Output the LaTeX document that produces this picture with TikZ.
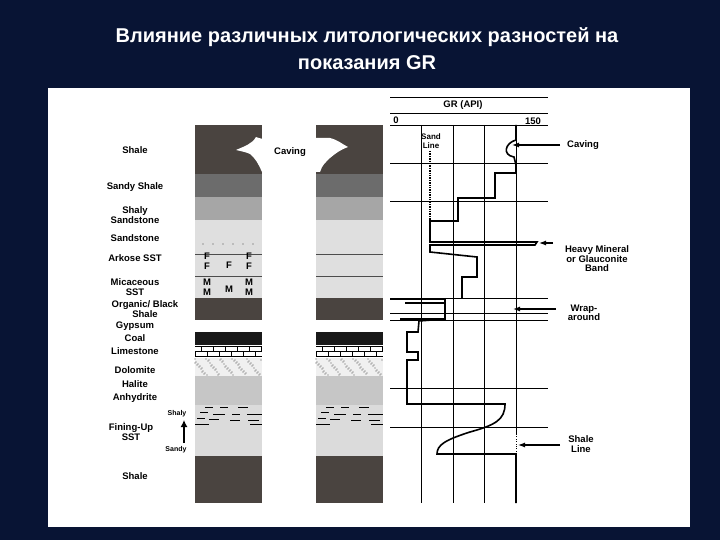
\documentclass[tikz,border=0pt]{standalone}
\usepackage{fontspec}
\setmainfont{Liberation Sans}
\begin{document}
\begin{tikzpicture}[x=1pt,y=-1pt,
  lbl/.style={font=\bfseries\fontsize{9.5}{9.5}\selectfont,align=center,inner sep=0pt},
  grid/.style={line width=0.6pt},
  curve/.style={line width=1.6pt,line join=miter},
  arr/.style={line width=1.2pt,-{Latex[length=7pt,width=5pt]}}]
\usetikzlibrary{arrows.meta}
\fill[fill={rgb,255:red,8;green,20;blue,52}] (0,0) rectangle (720,540);
\useasboundingbox (0,0) rectangle (720,540);
\fill[white] (48,88) rectangle (690,527);
\node[text=white,font=\bfseries\fontsize{20}{27}\selectfont,align=center] (title) at (367,49) {Влияние различных литологических разностей на\\показания GR};
% columns
\foreach \x/\n in {195/L,316/R}{
  \fill[fill={rgb,255:red,74;green,68;blue,64}] (\x,125) rectangle +(67,49);
  \fill[gray!85!black] (\x,174) rectangle +(67,23);
  \fill[gray!70] (\x,197) rectangle +(67,23);
  \fill[gray!25] (\x,220) rectangle +(67,78);
  \draw[gray!60!black,line width=0.4pt] (\x,254)--+(67,0) (\x,276)--+(67,0);
  \fill[fill={rgb,255:red,74;green,68;blue,64}] (\x,298) rectangle +(67,22);
  \fill[black!90] (\x,332) rectangle +(67,13);
  \draw[line width=0.5pt] (\x,346)--+(67,0) (\x,351)--+(67,0) (\x,356)--+(67,0);
  \foreach \i in {0,...,5}{\draw[line width=0.5pt] (\x+6+\i*12,346)--+(0,5) (\x+12*\i,351)--+(0,5);}
  \fill[gray!12] (\x,358) rectangle +(67,18);
  \foreach \i in {0,...,70}{\fill[gray!70!black] ({\x+mod(\i*37,67)},{359+mod(\i*13,17)}) circle (0.55);}
  \fill[gray!45] (\x,376) rectangle +(67,29);
  \fill[gray!28] (\x,405) rectangle +(67,51);
  \fill[fill={rgb,255:red,74;green,68;blue,64}] (\x,456) rectangle +(67,47);
  \foreach \a/\b/\c in {10/407/18,25/407/33,43/407/53,5/412/13,18/414/30,37/414/45,52/414/67,2/418/10,14/419/24,35/420/45,53/420/64,0/424/14,55/424/67}{
    \draw[line width=0.6pt] (\x+\a,\b)--(\x+\c,\b);}
}
\foreach \dx in {8,18,28,38,48,58}{\fill[gray!60!black] (195+\dx,244) circle (0.7);}
\node[lbl] (f1) at (207,261) {F\\F}; \node[lbl] (f2) at (229,265) {F}; \node[lbl] (f3) at (249,261) {F\\F};
\node[lbl] (m1) at (207,287) {M\\M}; \node[lbl] (m2) at (229,289) {M}; \node[lbl] (m3) at (249,287) {M\\M};
% caving cloud
\fill[white] (236,150) .. controls (245,146) and (252,144) .. (256,137) .. controls (264,140) and (270,140) .. (278,138)
  -- (330,138) .. controls (338,140) and (342,144) .. (348,147) .. controls (340,150) and (336,153) .. (330,158)
  .. controls (326,162) and (322,165) .. (320,172) -- (262,172) .. controls (258,163) and (255,158) .. (250,154) .. controls (246,152) and (240,151) .. (236,150) -- cycle;
\node[lbl] (cav) at (290,152) {Caving};
% left labels
\node[lbl] (l1) at (135,150) {Shale};
\node[lbl] (l2) at (135,187) {Sandy Shale};
\node[lbl] (l3) at (135,215) {Shaly\\Sandstone};
\node[lbl] (l4) at (135,238) {Sandstone};
\node[lbl] (l5) at (135,258) {Arkose SST};
\node[lbl] (l6) at (135,287) {Micaceous\\SST};
\node[lbl] (l7) at (145,309) {Organic/ Black\\Shale};
\node[lbl] (l8) at (135,326) {Gypsum};
\node[lbl] (l9) at (135,338) {Coal};
\node[lbl] (l10) at (135,351) {Limestone};
\node[lbl] (l11) at (135,370) {Dolomite};
\node[lbl] (l12) at (135,384) {Halite};
\node[lbl] (l13) at (135,398) {Anhydrite};
\node[lbl,font=\bfseries\fontsize{7}{8}\selectfont] (l14) at (177,414) {Shaly};
\node[lbl] (l15) at (131,432) {Fining-Up\\SST};
\node[lbl,font=\bfseries\fontsize{7}{8}\selectfont] (l16) at (176,450) {Sandy};
\node[lbl] (l17) at (135,476) {Shale};
\coordinate (fa) at (184,443); \coordinate (fb) at (184,420);
\draw[line width=1.3pt,-{Latex[length=7pt,width=7pt]}] (fa)--(fb);
% log track
\draw[grid] (390,97)--(548,97) (390,113)--(548,113);
\node[lbl] (gr) at (463,105) {GR (API)};
\node[lbl] (z) at (396,120) {0};
\node[lbl] (hf) at (533,121) {150};
\draw[grid] (390,125)--(548,125);
\foreach \x in {421,453,484,516}{\draw[grid] (\x,125)--(\x,503);}
\foreach \y in {163,201,298,313,320,388,427}{\draw[grid] (390,\y)--(548,\y);}
\node[lbl,font=\bfseries\fontsize{8}{8.5}\selectfont] (sl) at (431,141) {Sand\\Line};
\draw[line width=1.4pt,densely dotted] (430,151)--(430,242);
\draw[curve] (516,125)--(516,140) .. controls (505,143) and (502,155) .. (514,157) -- (516,165) -- (516,173) -- (495,173) -- (495,198) -- (458,198) -- (458,221) -- (430,221) -- (430,242) -- (537,242) -- (535,245) -- (430,245) -- (430,252) -- (477,257) -- (477,277) -- (462,277) -- (462,298);
\draw[curve] (390,299)--(445,299)--(445,319)--(400,319) (445,319)--(419,321)--(418,332)--(407,332)--(407,352)--(418,352)--(418,360)--(407,360)--(407,404)--(505,404)
  .. controls (505,420) and (495,425) .. (470,432) .. controls (445,440) and (437,445) .. (437,454) -- (516,454) -- (516,503);
\draw[line width=1.4pt,densely dotted,white] (516,435)--(516,452);
\draw[line width=2pt] (405,303)--(445,303);
% arrows
\coordinate (c1) at (560,145); \coordinate (c2) at (512,145);
\draw[arr] (c1)--(c2);
\node[lbl] (cl) at (583,145) {Caving};
\coordinate (h1) at (553,243); \coordinate (h2) at (539,243);
\draw[arr] (h1)--(h2);
\node[lbl] (hl) at (597,259) {Heavy Mineral\\or Glauconite\\Band};
\coordinate (w1) at (556,309); \coordinate (w2) at (513,309);
\draw[arr] (w1)--(w2);
\node[lbl] (wl) at (584,313) {Wrap-\\around};
\coordinate (s1) at (560,445); \coordinate (s2) at (518,445);
\draw[arr] (s1)--(s2);
\node[lbl] (shl) at (581,444) {Shale\\Line};
\end{tikzpicture}
\end{document}
